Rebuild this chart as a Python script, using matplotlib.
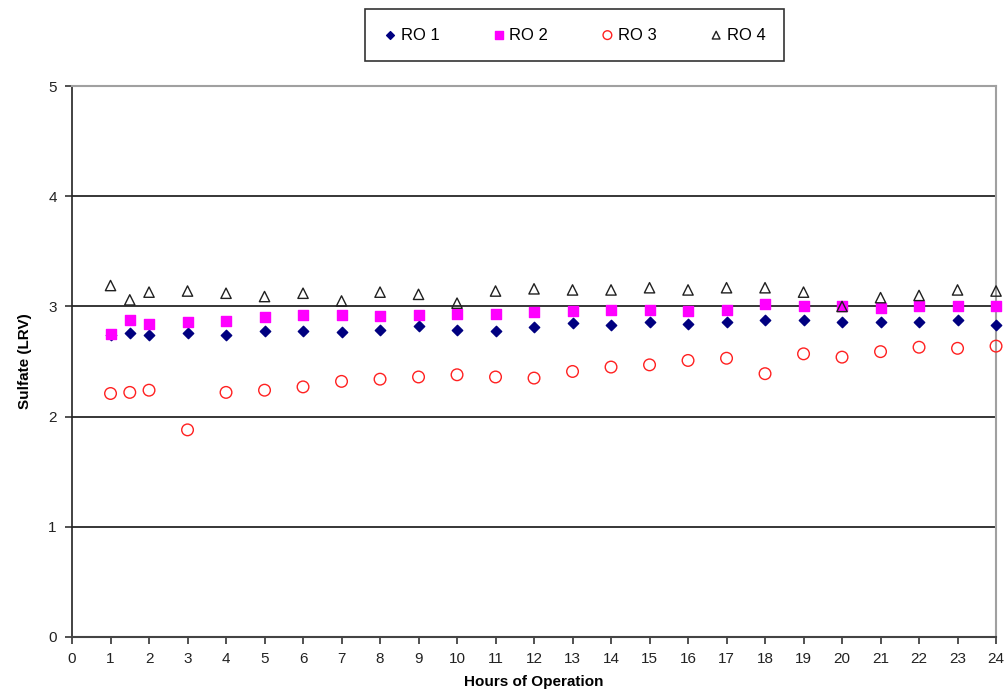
import numpy as np
import matplotlib.pyplot as plt

hours = [1, 1.5, 2, 3, 4, 5, 6, 7, 8, 9, 10, 11, 12, 13, 14, 15, 16, 17, 18, 19, 20, 21, 22, 23, 24]

ro1 = [2.74, 2.76, 2.74, 2.76, 2.74, 2.78, 2.78, 2.77, 2.79, 2.82, 2.79, 2.78, 2.81,
       2.85, 2.83, 2.86, 2.84, 2.86, 2.88, 2.88, 2.86, 2.86, 2.86, 2.88, 2.83]
ro2 = [2.75, 2.88, 2.84, 2.86, 2.87, 2.90, 2.92, 2.92, 2.91, 2.92, 2.93, 2.93, 2.95,
       2.96, 2.97, 2.97, 2.96, 2.97, 3.02, 3.00, 3.00, 2.99, 3.00, 3.00, 3.00]
ro3 = [2.21, 2.22, 2.24, 1.88, 2.22, 2.24, 2.27, 2.32, 2.34, 2.36, 2.38, 2.36, 2.35,
       2.41, 2.45, 2.47, 2.51, 2.53, 2.39, 2.57, 2.54, 2.59, 2.63, 2.62, 2.64]
ro4 = [3.19, 3.06, 3.13, 3.14, 3.12, 3.09, 3.12, 3.05, 3.13, 3.11, 3.03, 3.14, 3.16,
       3.15, 3.15, 3.17, 3.15, 3.17, 3.17, 3.13, 3.00, 3.08, 3.10, 3.15, 3.14]

plt.rcParams['font.family'] = ['Liberation Sans', 'DejaVu Sans']

fig = plt.figure(figsize=(10.06, 7), dpi=100)
ax = fig.add_axes([0.0716, 0.09, 0.9185, 0.787])

ax.scatter(hours, ro1, marker='D', s=28, color='#000080', label='RO 1', zorder=3, clip_on=False)
ax.scatter(hours, ro2, marker='s', s=62, color='#ff00ff', label='RO 2', zorder=3, clip_on=False)
ax.scatter(hours, ro3, marker='o', s=70, facecolors='none', edgecolors='#ff2020',
           linewidths=1.0, label='RO 3', zorder=3, clip_on=False)
ax.scatter(hours, ro4, marker='^', s=55, facecolors='none', edgecolors='#202020',
           linewidths=1.0, label='RO 4', zorder=4, clip_on=False)

ax.set_xlim(0, 24)
ax.set_ylim(0, 5)
ax.set_xticks(range(0, 25))
ax.set_yticks(range(0, 6))
for yv in range(1, 5):
    ax.axhline(yv, color='black', lw=1.1, zorder=1)

ax.spines['top'].set_color('#a0a0a0')
ax.spines['right'].set_color('#a0a0a0')
ax.spines['top'].set_linewidth(1.5)
ax.spines['right'].set_linewidth(1.5)
ax.spines['left'].set_color('#222222')
ax.spines['bottom'].set_color('#444444')
ax.spines['left'].set_linewidth(1.2)
ax.spines['bottom'].set_linewidth(1.5)
ax.tick_params(direction='out', length=5, width=1.1, labelsize=11, colors='#222222', pad=6)

ax.set_xlabel('Hours of Operation', fontsize=11, fontweight='bold', labelpad=6)
ax.set_ylabel('Sulfate (LRV)', fontsize=11, fontweight='bold', labelpad=12)

leg = fig.legend(loc='center', bbox_to_anchor=(0.571, 0.95), ncol=4, frameon=True,
                 fancybox=False, edgecolor='black', fontsize=12, handletextpad=0.25,
                 handlelength=0.8, columnspacing=3.15, borderpad=1.1, borderaxespad=0,
                 markerscale=0.75)
leg.get_frame().set_linewidth(1.2)

fig.savefig('out.png', dpi=100)
